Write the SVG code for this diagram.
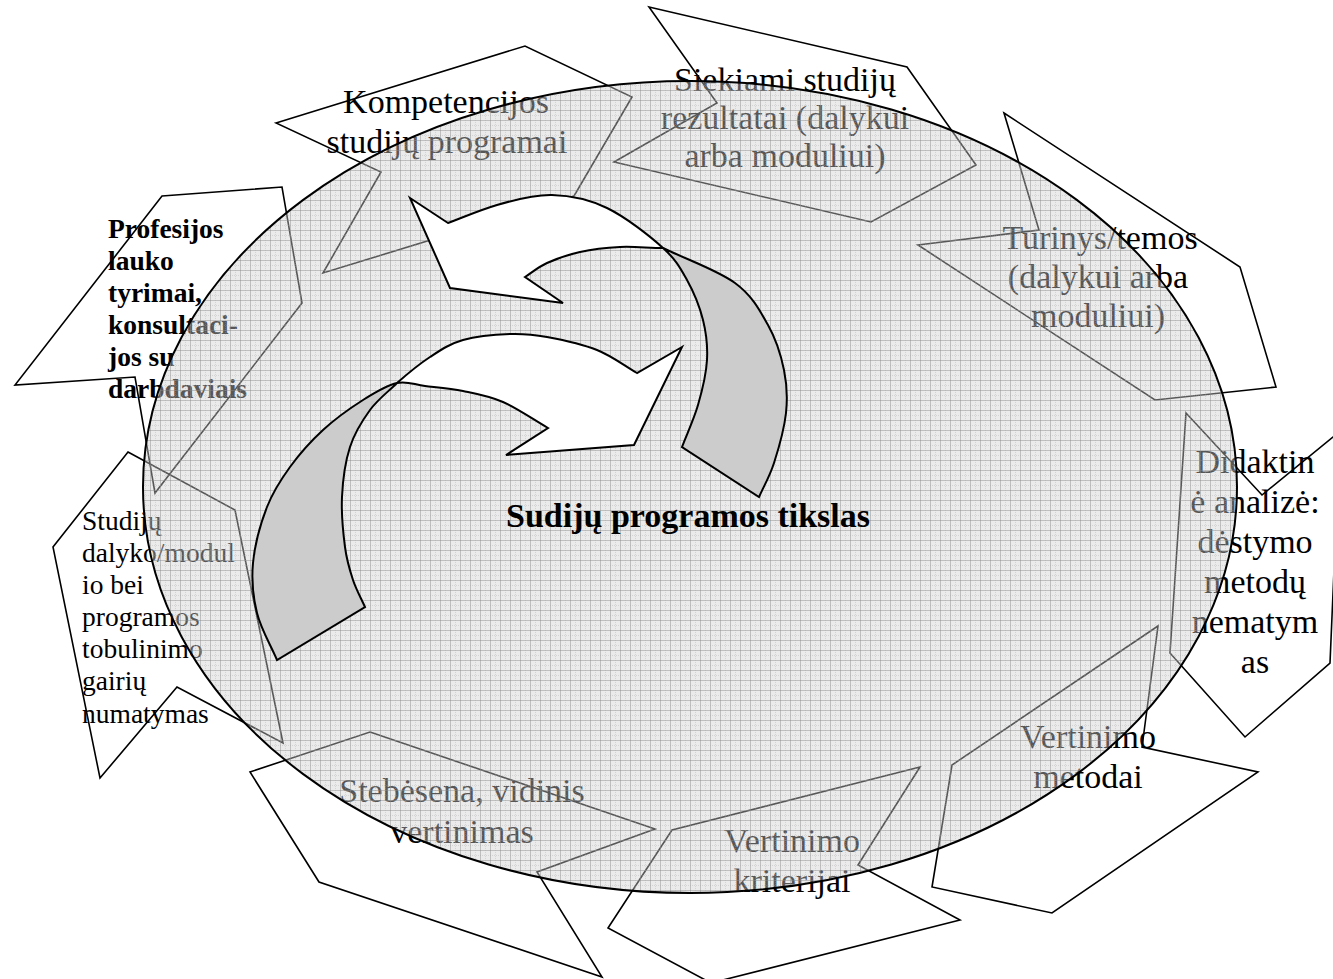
<svg xmlns="http://www.w3.org/2000/svg" width="1333" height="979" viewBox="0 0 1333 979">
<defs>
<pattern id="grid" width="10" height="10" patternUnits="userSpaceOnUse">
<rect width="10" height="10" fill="#d0d0d0" fill-opacity="0.42"/>
<path d="M0,0.5H10M0.5,0V10" stroke="#8a8a8a" stroke-opacity="0.45" stroke-width="1" fill="none"/>
<path d="M0,5.5H10M5.5,0V10" stroke="#a0a0a0" stroke-opacity="0.3" stroke-width="1" stroke-dasharray="1,1" fill="none"/>
</pattern>
<style>
.poly{fill:none;stroke:#000;stroke-width:1.6;stroke-linejoin:miter}
.lbl{font-family:"Liberation Serif","Times New Roman",serif;font-size:34px;fill:#000;text-anchor:middle}
.side{font-size:27.5px;text-anchor:start}
.bold{font-weight:bold}
.w{fill:#fff;stroke:#000;stroke-width:2;stroke-linejoin:miter}
.g{fill:#cccccc;stroke:#000;stroke-width:2;stroke-linejoin:miter}
</style>
</defs>
<rect width="1333" height="979" fill="#fff"/>

<g id="node-kompetencijos">
<polygon class="poly" points="276,123 525,46 632,97 574,196 323,273 381,172"/>
<text class="lbl"><tspan x="446" y="113">Kompetencijos</tspan><tspan x="447" y="153">studijų programai</tspan></text>
</g>
<g id="node-siekiami">
<polygon class="poly" points="649,7 907,67 976,165 871,222 614,162 717,103"/>
<text class="lbl"><tspan x="785" y="91">Siekiami studijų</tspan><tspan x="785" y="129">rezultatai (dalykui</tspan><tspan x="785" y="167">arba moduliui)</tspan></text>
</g>
<g id="node-turinys">
<polygon class="poly" points="1004,113 1240,267 1276,387 1155,400 918,245 1039,230"/>
<text class="lbl"><tspan x="1100" y="249">Turinys/temos</tspan><tspan x="1098" y="288">(dalykui arba</tspan><tspan x="1098" y="327">moduliui)</tspan></text>
</g>
<g id="node-didaktine">
<polygon class="poly" points="1186,413 1262,495 1360,415 1334,570 1330,663 1245,737 1170,653"/>
<text class="lbl"><tspan x="1255" y="473">Didaktin</tspan><tspan x="1255" y="513">ė analizė:</tspan><tspan x="1255" y="553">dėstymo</tspan><tspan x="1255" y="593">metodų</tspan><tspan x="1255" y="633">nematym</tspan><tspan x="1255" y="673">as</tspan></text>
</g>
<g id="node-metodai">
<polygon class="poly" points="1158,626 1142,747 1258,772 1052,913 932,887 952,765"/>
<text class="lbl"><tspan x="1088" y="748">Vertinimo</tspan><tspan x="1088" y="788">metodai</tspan></text>
</g>
<g id="node-kriterijai">
<polygon class="poly" points="920,767 858,865 960,920 711,983 608,928 672,830"/>
<text class="lbl"><tspan x="792" y="852">Vertinimo</tspan><tspan x="792" y="892">kriterijai</tspan></text>
</g>
<g id="node-stebesena">
<polygon class="poly" points="370,732 655,829 537,872 602,977 319,882 250,772"/>
<text class="lbl"><tspan x="462" y="802">Stebėsena, vidinis</tspan><tspan x="462" y="843">vertinimas</tspan></text>
</g>
<g id="node-studiju">
<polygon class="poly" points="128,452 235,510 283,743 177,687 100,778 53,547"/>
<text class="lbl side"><tspan x="82" y="530">Studijų</tspan><tspan x="82" y="562">dalyko/modul</tspan><tspan x="82" y="594">io bei</tspan><tspan x="82" y="626">programos</tspan><tspan x="82" y="658">tobulinimo</tspan><tspan x="82" y="690">gairių</tspan><tspan x="82" y="723">numatymas</tspan></text>
</g>
<g id="node-profesijos">
<polygon class="poly" points="162,196 282,187 302,303 155,493 135,377 15,385"/>
<text class="lbl side bold"><tspan x="108" y="238">Profesijos</tspan><tspan x="108" y="270">lauko</tspan><tspan x="108" y="302">tyrimai,</tspan><tspan x="108" y="334">konsultaci-</tspan><tspan x="108" y="366">jos su</tspan><tspan x="108" y="398">darbdaviais</tspan></text>
</g>

<g id="cycle">
<ellipse cx="690" cy="487" rx="547" ry="406" fill="url(#grid)" stroke="#000" stroke-width="2"/>
</g>

<g id="connectors">
<path class="w" d="M410,198 L448,223 C464,217 480,210 497,205 S534,194.5 552,195 S588.5,199 607,208 S650,236 663,248 C649,248 633.8,246.3 620,247 S592.2,249.3 580,252 S556.2,258.8 547,263 S532.3,272.3 525,277 L563,303 L450,288 Z"/>
<path class="g" d="M663,248 C676.3,260 680.3,268 687,280 S699.7,306.7 703,320 S707.8,345.8 707,360 S702.2,390.5 698,405 S687.3,433 682,447 L759,497 C764,485.7 769.5,477 774,463 S784.3,428.5 786,413 S787,384.7 784,370 S776.2,339.5 768,325 S752.5,295.8 735,283 S687,259.7 663,248 Z"/>
<path class="w" d="M682,347 L637,373 C623.7,365.3 612,356 597,350 S561.5,339.7 547,337 S524,333.5 510,334 S476.3,336.2 463,340 S441,349.8 430,357 S407,374.2 397,383 C407.3,380.7 414,384.7 425,386 S450,388.3 463,391 S488.8,395.8 503,402 S533,419.3 548,428 L506,455 L634,445 Z"/>
<path class="g" d="M397,383 C386.7,385.3 375.3,392.2 363,400 S335.2,418.8 323,430 S299.3,454.2 290,467 S273.2,491 267,507 S254.7,545.3 253,563 S253,596.8 257,613 S270.3,644.3 277,660 L365,607 C361,598 356.3,590 353,580 S346.8,560.8 345,547 S341.2,513.7 342,497 S345.3,461.5 350,447 S362.2,420.7 370,410 S388,392 397,383 Z"/>
</g>

<g id="node-goal">
<text class="lbl bold" x="506" y="527" style="text-anchor:start">Sudijų programos tikslas</text>
</g>
</svg>
